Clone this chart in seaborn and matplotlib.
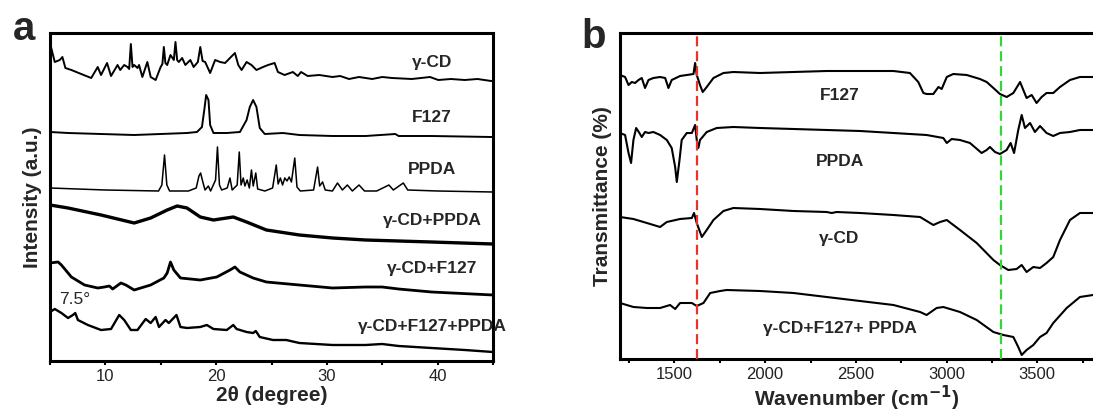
import numpy as np
import pandas as pd
import matplotlib
matplotlib.use("Agg")
import matplotlib.pyplot as plt
from matplotlib.ticker import MultipleLocator
import seaborn as sns

# ---------------- panel a: XRD (2theta, stacked intensity a.u.) ----------------
cd_x = [5.0, 5.43, 5.88, 6.12, 6.39, 6.93, 7.82, 8.72, 9.31, 9.61, 10.15, 10.51, 11.10, 11.34,
        11.70, 12.0, 12.15, 12.30, 12.45, 12.60, 12.90, 13.04, 13.34, 13.79, 14.09, 14.54,
        14.99, 15.15, 15.28, 15.42, 15.58, 15.88, 16.18, 16.33, 16.48, 16.63, 16.93, 17.22,
        17.67, 17.97, 18.35, 18.57, 18.78, 19.01, 19.46, 19.91, 20.36, 20.81, 21.25, 21.70,
        22.0, 22.30, 22.75, 23.19, 23.64, 24.24, 24.69, 25.28, 25.58, 26.18, 26.93, 27.37,
        27.67, 28.27, 29.31, 30.51, 31.2, 32.0, 32.9, 34.09, 35.0, 35.88, 37.67, 38.5,
        39.31, 40.06, 41.2, 42.45, 43.6, 44.84, 45.0]
cd_y = [318, 299, 301, 304, 293, 291, 287, 283, 294, 286, 298, 285, 296, 291,
        296, 294, 292, 317, 294, 296, 293, 296, 284, 299, 284, 281,
        294, 297, 314, 298, 296, 306, 301, 319, 301, 299, 303, 296,
        301, 294, 299, 314, 300, 299, 288, 301, 299, 298, 303, 308,
        296, 291, 299, 296, 291, 294, 296, 298, 289, 286, 289, 285,
        289, 285, 286, 284, 285, 282, 284, 282, 284, 283, 282, 283,
        284, 281, 282, 281, 282, 280, 280]

f127_x = [5.0, 6.63, 9.61, 12.60, 14.99, 17.37, 18.27, 18.72, 18.93, 19.10, 19.31, 19.46,
          19.76, 20.96, 22.15, 22.75, 23.04, 23.34, 23.64, 23.94, 24.39, 26.03, 27.52,
          30.51, 33.49, 36.18, 36.48, 39.46, 44.84, 45.0]
f127_y = [229, 228, 227, 226, 227, 228, 229, 234, 251, 266, 261, 236,
          228, 228, 229, 241, 254, 261, 254, 233, 227, 228, 226,
          225, 225, 227, 225, 225, 224, 224]

ppda_x = [5.0, 10.0, 14.8, 15.1, 15.34, 15.55, 15.8, 17.5, 18.2, 18.45, 18.6, 18.8, 19.0,
          19.3, 19.5, 19.95, 20.12, 20.3, 20.5, 21.0, 21.25, 21.45, 21.9, 22.09, 22.25,
          22.45, 22.6, 22.8, 23.0, 23.19, 23.35, 23.58, 23.75, 24.4, 25.1, 25.43, 25.6,
          25.8, 26.0, 26.2, 26.4, 26.6, 26.8, 27.10, 27.3, 27.6, 28.8, 29.16, 29.35, 29.61,
          29.85, 30.5, 30.96, 31.4, 31.85, 32.3, 32.9, 33.4, 34.5, 35.6, 36.0, 36.9, 37.3,
          40.0, 45.0]
ppda_y = [173, 171, 170, 176, 206, 176, 170, 170, 173, 185, 188, 179, 171,
          175, 170, 181, 214, 176, 171, 173, 183, 171, 176, 209, 176,
          183, 175, 181, 173, 191, 175, 188, 172, 170, 173, 196, 177,
          183, 176, 183, 180, 184, 179, 203, 174, 170, 171, 194, 175, 179,
          171, 170, 178, 171, 176, 170, 176, 170, 170, 176, 171, 178, 171,
          170, 169]

cdppda_x = [5.0, 6.63, 9.61, 11.1, 12.60, 14.09, 15.58, 16.48, 17.37, 18.57, 19.76, 21.55,
            22.75, 24.54, 27.52, 30.51, 33.49, 36.48, 39.46, 45.0]
cdppda_y = [156, 153, 146, 142, 138, 143, 151, 155, 153, 144, 141, 144,
            139, 131, 126, 123, 121, 120, 119, 117]

cdf127_x = [5.0, 5.73, 6.03, 6.93, 8.12, 9.31, 9.91, 10.36, 10.66, 11.40, 11.85, 12.60,
            14.09, 15.28, 15.58, 15.88, 16.18, 16.78, 18.57, 20.06, 21.25, 21.70, 22.15,
            23.34, 24.54, 27.52, 30.51, 33.49, 34.99, 36.48, 39.46, 45.0]
cdf127_y = [98, 99, 96, 84, 76, 73, 74, 75, 72, 78, 76, 71,
            76, 83, 88, 99, 91, 83, 81, 84, 91, 94, 89,
            83, 79, 76, 73, 74, 74, 72, 69, 66]

ter_x = [5.0, 5.43, 6.03, 6.63, 7.07, 7.28, 7.52, 8.42, 9.61, 10.51, 11.25, 11.70, 12.30,
         12.90, 13.64, 14.09, 14.54, 14.84, 15.43, 15.73, 16.42, 16.78, 17.37, 18.57,
         19.16, 19.76, 20.96, 21.55, 21.85, 22.75, 23.34, 23.58, 23.94, 25.13, 26.33,
         27.52, 30.51, 33.49, 34.99, 36.48, 39.46, 42.45, 45.0]
ter_y = [49, 52, 48, 43, 46, 48, 41, 36, 31, 32, 46, 41, 31,
         31, 42, 38, 44, 34, 41, 38, 46, 34, 33, 34,
         36, 32, 31, 36, 32, 29, 28, 30, 24, 21, 21,
         18, 16, 16, 17, 15, 13, 11, 9]

xrd_names = ["γ-CD", "F127", "PPDA", "γ-CD+PPDA", "γ-CD+F127", "γ-CD+F127+PPDA"]
xrd_label_y = [298, 244, 191, 141, 93, 35]

# ---------------- panel b: FTIR (wavenumber, stacked transmittance) ----------------
ir_f127_x = [1200, 1228, 1247, 1265, 1283, 1302, 1320, 1338, 1357, 1384, 1421, 1449, 1467,
             1485, 1531, 1605, 1614, 1623, 1641, 1656, 1678, 1715, 1770, 1825, 1972, 2156,
             2339, 2523, 2707, 2798, 2844, 2872, 2890, 2927, 2955, 2973, 3001, 3037, 3111,
             3184, 3221, 3258, 3294, 3331, 3368, 3405, 3423, 3441, 3469, 3496, 3524, 3551,
             3588, 3625, 3680, 3735, 3807]
ir_f127_y = [284, 282, 274, 277, 276, 279, 281, 271, 279, 281, 282, 281, 271,
             279, 283, 285, 296, 284, 274, 267, 272, 281, 286, 287, 286, 287,
             288, 288, 288, 286, 277, 266, 265, 265, 272, 270, 282, 285, 284,
             280, 277, 271, 265, 262, 266, 277, 269, 261, 264, 256, 262, 266,
             266, 272, 279, 282, 282]

ir_ppda_x = [1200, 1228, 1247, 1261, 1274, 1289, 1307, 1320, 1338, 1357, 1384, 1421, 1458,
             1485, 1504, 1513, 1528, 1540, 1568, 1596, 1614, 1623, 1632, 1641, 1678, 1733,
             1825, 1972, 2156, 2339, 2523, 2707, 2890, 2982, 3001, 3028, 3074, 3129, 3193,
             3221, 3239, 3267, 3294, 3331, 3353, 3372, 3395, 3414, 3432, 3460, 3487, 3515,
             3551, 3588, 3625, 3680, 3735, 3807]
ir_ppda_y = [226, 224, 206, 196, 219, 231, 226, 222, 227, 226, 227, 224, 219,
             211, 192, 177, 199, 219, 226, 226, 234, 219, 211, 219, 227, 231,
             232, 231, 230, 229, 228, 226, 224, 221, 216, 220, 219, 216, 206,
             209, 212, 207, 205, 209, 216, 206, 229, 244, 231, 236, 227, 233,
             226, 223, 226, 227, 229, 229]

ir_cd_x = [1200, 1274, 1348, 1421, 1458, 1531, 1596, 1608, 1623, 1651, 1678, 1715, 1770,
           1825, 1972, 2156, 2339, 2367, 2394, 2523, 2707, 2854, 2927, 2964, 3001, 3074,
           3166, 3258, 3294, 3340, 3386, 3414, 3441, 3478, 3515, 3551, 3588, 3625, 3680,
           3735, 3807]
ir_cd_y = [142, 140, 136, 132, 137, 140, 141, 146, 136, 122, 129, 139, 148,
           151, 150, 148, 147, 146, 147, 146, 144, 142, 134, 137, 139, 129,
           116, 99, 94, 89, 90, 94, 87, 92, 91, 96, 102, 119, 139,
           146, 146]

ir_ter_x = [1200, 1274, 1348, 1421, 1476, 1504, 1531, 1596, 1623, 1660, 1697, 1752, 1788,
            1972, 2156, 2339, 2523, 2707, 2854, 2890, 2945, 2982, 3074, 3166, 3258, 3313,
            3368, 3395, 3414, 3441, 3478, 3515, 3551, 3588, 3662, 3735, 3807]
ir_ter_y = [56, 52, 51, 51, 54, 50, 56, 56, 53, 56, 66, 68, 69,
            68, 66, 62, 58, 54, 47, 44, 51, 52, 47, 39, 27, 24,
            22, 12, 4, 9, 14, 22, 26, 36, 51, 62, 64]

ir_names = ["F127", "PPDA", "γ-CD", "γ-CD+F127+ PPDA"]
ir_label_y = [263, 197, 121, 31]
ir_marks = [1623, 3300]

sns.set_theme(style="ticks")
plt.rcParams['font.family'] = ['Liberation Sans', 'DejaVu Sans']
plt.rcParams['mathtext.default'] = 'bf'

fig = plt.figure(figsize=(10.93, 4.16), dpi=100)
ax1 = fig.add_axes([50 / 1093, 55 / 416, 443 / 1093, 328 / 416])
ax2 = fig.add_axes([620 / 1093, 57 / 416, 473 / 1093, 326 / 416])

xrd = [(cd_x, cd_y, 1.4), (f127_x, f127_y, 1.4), (ppda_x, ppda_y, 1.1),
       (cdppda_x, cdppda_y, 2.4), (cdf127_x, cdf127_y, 2.0), (ter_x, ter_y, 1.7)]
for (xs, ys, w), name, ly in zip(xrd, xrd_names, xrd_label_y):
    sns.lineplot(x=xs, y=ys, ax=ax1, color="black", lw=w, sort=False, estimator=None)
    ax1.text(39.5, ly, name, ha="center", va="center", fontsize=12.5, fontweight="bold")
ax1.text(7.2, 61, "7.5°", ha="center", va="center", fontsize=12.5)

ax1.set_xlim(5, 45)
ax1.set_ylim(0, 328)
ax1.set_yticks([])
ax1.xaxis.set_major_locator(MultipleLocator(10))
ax1.xaxis.set_minor_locator(MultipleLocator(5))
ax1.set_xlabel("2θ (degree)", fontsize=15, fontweight="bold", labelpad=1)
ax1.set_ylabel("Intensity (a.u.)", fontsize=15, fontweight="bold", labelpad=6)

ir = [(ir_f127_x, ir_f127_y), (ir_ppda_x, ir_ppda_y), (ir_cd_x, ir_cd_y), (ir_ter_x, ir_ter_y)]
for (xs, ys), name, ly in zip(ir, ir_names, ir_label_y):
    sns.lineplot(x=xs, y=ys, ax=ax2, color="black", lw=1.5, sort=False, estimator=None)
    ax2.text(2410, ly, name, ha="center", va="center", fontsize=12.5, fontweight="bold")
ax2.axvline(ir_marks[0], color="#e8322c", lw=1.6, ls=(0, (4.5, 2.2)), zorder=3)
ax2.axvline(ir_marks[1], color="#33d633", lw=1.6, ls=(0, (4.5, 2.2)), zorder=3)

ax2.set_xlim(1200, 3807)
ax2.set_ylim(0, 326)
ax2.set_yticks([])
ax2.xaxis.set_major_locator(MultipleLocator(500))
ax2.xaxis.set_minor_locator(MultipleLocator(250))
ax2.set_xlabel("Wavenumber (cm$^{-1}$)", fontsize=15, fontweight="bold", labelpad=1)
ax2.set_ylabel("Transmittance (%)", fontsize=15, fontweight="bold", labelpad=6)
ax2.spines["right"].set_visible(False)

for ax in (ax1, ax2):
    for s in ax.spines.values():
        s.set_linewidth(2.2)
        s.set_color("black")
    ax.tick_params(axis="x", which="both", direction="out", length=3, width=1.5,
                   labelsize=12, pad=3, colors="black")
    ax.tick_params(axis="x", which="both", labelcolor="#222222")

fig.text(24 / 1093, 1 - 40 / 416, "a", fontsize=29, fontweight="bold", ha="center", va="baseline")
fig.text(594 / 1093, 1 - 48 / 416, "b", fontsize=29, fontweight="bold", ha="center", va="baseline")

fig.savefig("out.png", dpi=100)
